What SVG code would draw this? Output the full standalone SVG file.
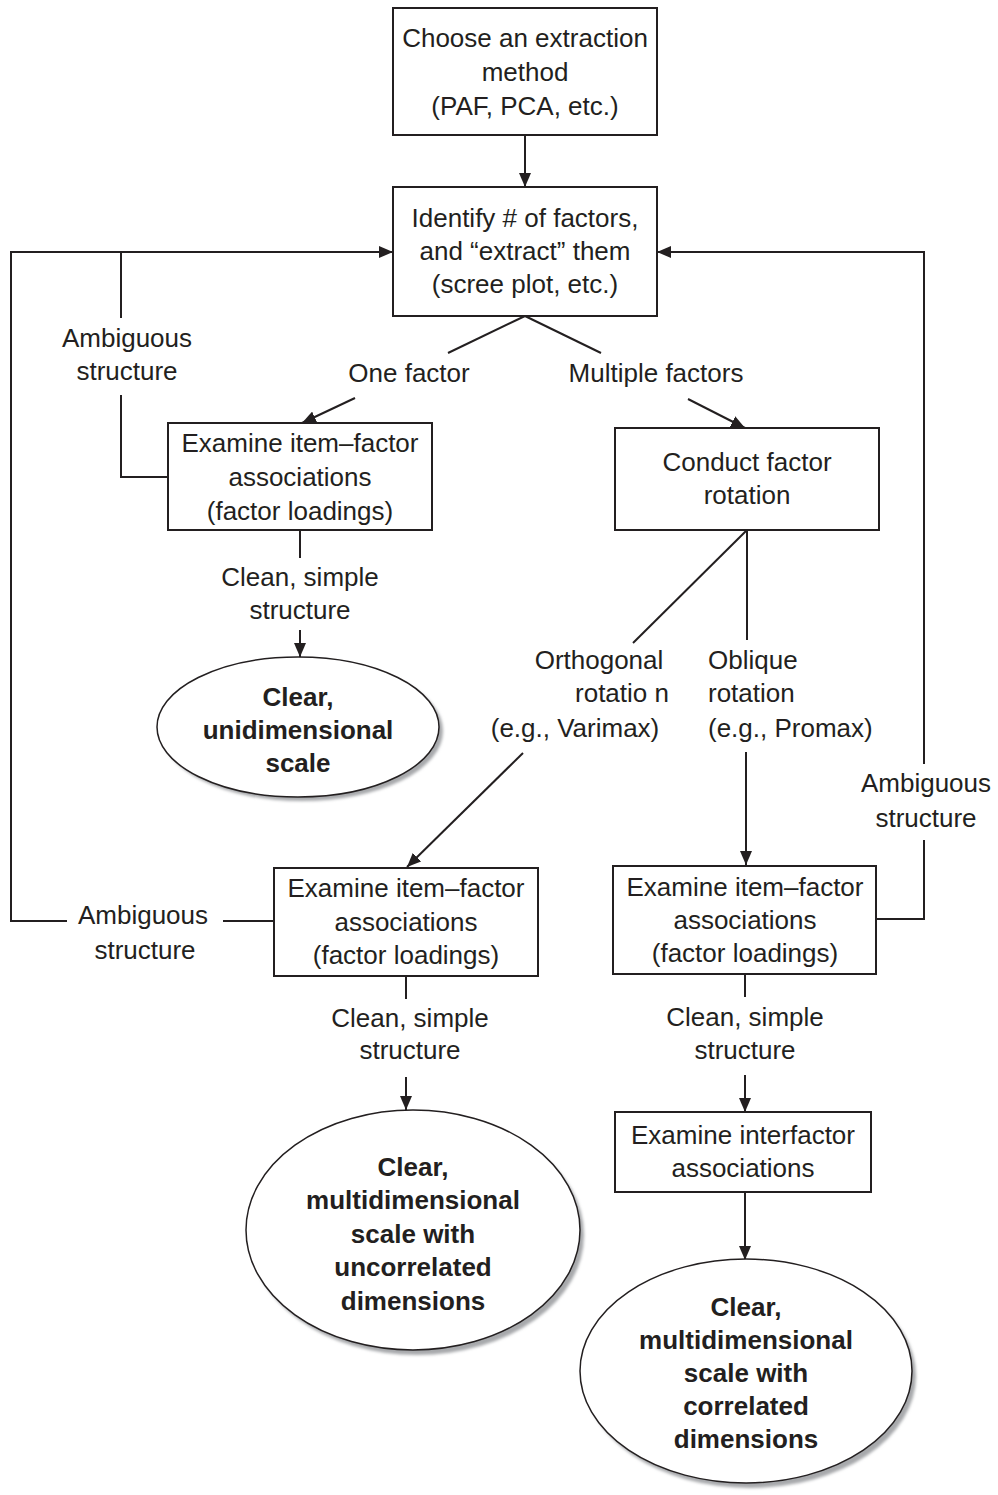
<svg xmlns="http://www.w3.org/2000/svg" width="998" height="1495" viewBox="0 0 998 1495">
  <defs>
    <marker id="arrow" markerUnits="userSpaceOnUse" markerWidth="14" markerHeight="12" refX="14" refY="6" orient="auto">
      <path d="M0,0 L14,6 L0,12 Z" fill="#231f20"/>
    </marker>
    <filter id="soft" x="-10%" y="-10%" width="120%" height="120%">
      <feGaussianBlur stdDeviation="1.6"/>
    </filter>
  </defs>
  <style>
    .box { fill: #fff; stroke: #231f20; stroke-width: 2; }
    .oval { fill: #fff; stroke: #231f20; stroke-width: 1.5; }
    .shadow { fill: #a7a9ac; filter: url(#soft); }
    .wire { fill: none; stroke: #231f20; stroke-width: 2; }
    .arr { marker-end: url(#arrow); }
    text { font-family: "Liberation Sans", Arial, Helvetica, sans-serif; font-size: 26px; fill: #231f20; text-anchor: middle; }
    .bold { font-weight: bold; }
  </style>
  <rect width="998" height="1495" fill="#fff"/>

  <!-- connectors -->
  <g id="connectors">
    <line class="wire arr" x1="525" y1="135" x2="525" y2="187"/>
    <!-- split under the factor count box -->
    <line class="wire" x1="525" y1="316" x2="448" y2="353"/>
    <line class="wire arr" x1="355" y1="398" x2="302" y2="423"/>
    <line class="wire" x1="525" y1="316" x2="601" y2="353"/>
    <line class="wire arr" x1="688" y1="399" x2="745" y2="428"/>
    <!-- left feedback loops -->
    <path class="wire" d="M168,477 H121 V395"/>
    <path class="wire" d="M121,318 V252"/>
    <path class="wire arr" d="M67,921 H11 V252 H393"/>
    <path class="wire" d="M275,921 H223"/>
    <!-- right feedback loop -->
    <path class="wire" d="M876,919 H924 V840"/>
    <path class="wire arr" d="M924,764 V252 H657"/>
    <!-- rotation branches -->
    <line class="wire" x1="747" y1="530" x2="633" y2="643"/>
    <line class="wire arr" x1="523" y1="753" x2="407" y2="867"/>
    <line class="wire" x1="747" y1="530" x2="747" y2="640"/>
    <line class="wire arr" x1="746" y1="752" x2="746" y2="865"/>
    <!-- clean structure paths -->
    <line class="wire" x1="300" y1="530" x2="300" y2="558"/>
    <line class="wire arr" x1="300" y1="630" x2="300" y2="657"/>
    <line class="wire" x1="406" y1="976" x2="406" y2="999"/>
    <line class="wire arr" x1="406" y1="1077" x2="406" y2="1110"/>
    <line class="wire" x1="745" y1="974" x2="745" y2="997"/>
    <line class="wire arr" x1="745" y1="1075" x2="745" y2="1112"/>
    <line class="wire arr" x1="745" y1="1192" x2="745" y2="1260"/>

    <!-- connector labels -->
    <text x="409" y="382">One factor</text>
    <text x="656" y="382">Multiple factors</text>
    <text x="127" y="347">Ambiguous</text>
    <text x="127" y="380">structure</text>
    <text x="143" y="924">Ambiguous</text>
    <text x="145" y="959">structure</text>
    <text x="926" y="792">Ambiguous</text>
    <text x="926" y="827">structure</text>
    <text x="300" y="586">Clean, simple</text>
    <text x="300" y="619">structure</text>
    <text x="410" y="1027">Clean, simple</text>
    <text x="410" y="1059">structure</text>
    <text x="745" y="1026">Clean, simple</text>
    <text x="745" y="1059">structure</text>
    <text x="599" y="669">Orthogonal</text>
    <text x="622" y="702">rotatio n</text>
    <text x="575" y="737">(e.g., Varimax)</text>
    <text x="708" y="669" style="text-anchor:start">Oblique</text>
    <text x="708" y="702" style="text-anchor:start">rotation</text>
    <text x="708" y="737" style="text-anchor:start">(e.g., Promax)</text>
  </g>

  <g id="extraction">
    <rect class="box" x="393" y="8" width="264" height="127"/>
    <text x="525" y="47">Choose an extraction</text>
    <text x="525" y="81">method</text>
    <text x="525" y="115">(PAF, PCA, etc.)</text>
  </g>

  <g id="factor-count">
    <rect class="box" x="393" y="187" width="264" height="129"/>
    <text x="525" y="227">Identify # of factors,</text>
    <text x="525" y="260">and “extract” them</text>
    <text x="525" y="293">(scree plot, etc.)</text>
  </g>

  <g id="loadings-one">
    <rect class="box" x="168" y="423" width="264" height="107"/>
    <text x="300" y="452">Examine item–factor</text>
    <text x="300" y="486">associations</text>
    <text x="300" y="520">(factor loadings)</text>
  </g>

  <g id="rotation">
    <rect class="box" x="615" y="428" width="264" height="102"/>
    <text x="747" y="471">Conduct factor</text>
    <text x="747" y="504">rotation</text>
  </g>

  <g id="unidimensional">
    <ellipse class="shadow" cx="302" cy="731" rx="141" ry="70"/>
    <ellipse class="oval" cx="298" cy="727" rx="141" ry="70"/>
    <text class="bold" x="298" y="706">Clear,</text>
    <text class="bold" x="298" y="739">unidimensional</text>
    <text class="bold" x="298" y="772">scale</text>
  </g>

  <g id="loadings-orthogonal">
    <rect class="box" x="274" y="868" width="264" height="108"/>
    <text x="406" y="897">Examine item–factor</text>
    <text x="406" y="931">associations</text>
    <text x="406" y="964">(factor loadings)</text>
  </g>

  <g id="loadings-oblique">
    <rect class="box" x="613" y="866" width="263" height="108"/>
    <text x="745" y="896">Examine item–factor</text>
    <text x="745" y="929">associations</text>
    <text x="745" y="962">(factor loadings)</text>
  </g>

  <g id="interfactor">
    <rect class="box" x="615" y="1112" width="256" height="80"/>
    <text x="743" y="1144">Examine interfactor</text>
    <text x="743" y="1177">associations</text>
  </g>

  <g id="uncorrelated">
    <ellipse class="shadow" cx="417" cy="1235" rx="167" ry="120"/>
    <ellipse class="oval" cx="413" cy="1230" rx="167" ry="120"/>
    <text class="bold" x="413" y="1176">Clear,</text>
    <text class="bold" x="413" y="1209">multidimensional</text>
    <text class="bold" x="413" y="1243">scale with</text>
    <text class="bold" x="413" y="1276">uncorrelated</text>
    <text class="bold" x="413" y="1310">dimensions</text>
  </g>

  <g id="correlated">
    <ellipse class="shadow" cx="750" cy="1376" rx="166" ry="112"/>
    <ellipse class="oval" cx="746" cy="1371" rx="166" ry="112"/>
    <text class="bold" x="746" y="1316">Clear,</text>
    <text class="bold" x="746" y="1349">multidimensional</text>
    <text class="bold" x="746" y="1382">scale with</text>
    <text class="bold" x="746" y="1415">correlated</text>
    <text class="bold" x="746" y="1448">dimensions</text>
  </g>
</svg>
